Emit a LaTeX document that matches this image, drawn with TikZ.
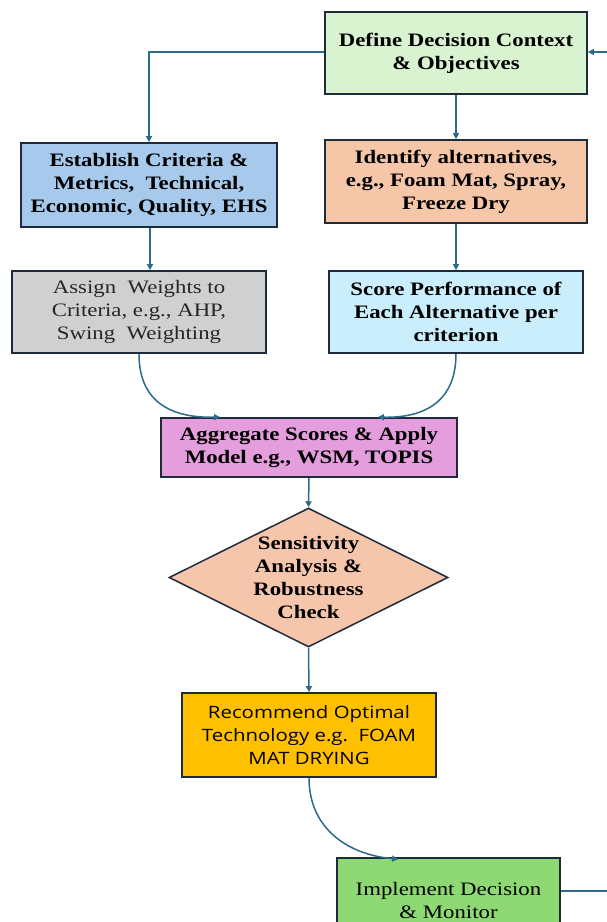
\documentclass[tikz,border=0pt]{standalone}
\usepackage{fontspec}
\setmainfont{Liberation Serif}[FakeStretch=1.2]
\newfontfamily\recfont{Open Sans}[FakeStretch=1.2]
\usetikzlibrary{shapes.geometric,arrows.meta}
\definecolor{cdefine}{HTML}{D9F2D0}
\definecolor{cestab}{HTML}{A6C9EC}
\definecolor{cident}{HTML}{F6C6A8}
\definecolor{cassign}{HTML}{D0D0D0}
\definecolor{cscore}{HTML}{CAEEFB}
\definecolor{caggr}{HTML}{E59EDD}
\definecolor{cdiam}{HTML}{F6C6AC}
\definecolor{crec}{HTML}{FFC000}
\definecolor{cimpl}{HTML}{8ED973}
\definecolor{cborder}{HTML}{1E2B3A}
\definecolor{carrow}{HTML}{2D6A8A}
\tikzset{
  box/.style={rectangle, draw=cborder, line width=1.8pt, align=center, inner sep=0pt},
  boldtext/.style={font=\fontsize{19}{23}\selectfont\bfseries},
  plaintext/.style={font=\fontsize{19}{23}\selectfont},
  conn/.style={draw=carrow, line width=1.5pt, -{Triangle[length=6pt,width=6pt]}},
  plainconn/.style={draw=carrow, line width=1.5pt}
}
\begin{document}
\begin{tikzpicture}[x=1pt,y=-1pt]
\useasboundingbox[fill=white] (0,0) rectangle (607,922);
\node[box, boldtext, fill=cdefine, minimum width=262pt, minimum height=82pt] (define) at (456,53) {Define Decision Context\\\& Objectives};
\node[box, boldtext, fill=cestab, minimum width=256pt, minimum height=84pt] (establish) at (149,185) {Establish Criteria \&\\Metrics,\ \ Technical,\\Economic, Quality, EHS};
\node[box, boldtext, fill=cident, minimum width=262pt, minimum height=83pt] (identify) at (456,181.5) {Identify alternatives,\\e.g., Foam Mat, Spray,\\Freeze Dry};
\node[box, plaintext, text=black!85, fill=cassign, minimum width=254pt, minimum height=82pt] (assign) at (139,312) {Assign\ \ Weights to\\Criteria, e.g., AHP,\\Swing\ \ Weighting};
\node[box, boldtext, fill=cscore, minimum width=254pt, minimum height=82pt] (score) at (456,312) {Score Performance of\\Each Alternative per\\criterion};
\node[box, boldtext, fill=caggr, minimum width=296pt, minimum height=59pt] (aggregate) at (309,447.5) {Aggregate Scores \& Apply\\Model e.g., WSM, TOPIS};
\node[diamond, draw=cborder, line width=1.5pt, fill=cdiam, aspect=2, inner sep=0pt, minimum width=279pt, minimum height=139pt, align=center, boldtext] (check) at (308.5,577.5) {Sensitivity\\Analysis \&\\Robustness\\Check};
\node[box, fill=crec, minimum width=254pt, minimum height=84pt, font=\recfont\fontsize{17}{23}\selectfont] (recommend) at (309,735) {Recommend Optimal\\Technology e.g.\ \ FOAM\\MAT DRYING};
\node[box, plaintext, fill=cimpl, minimum width=223pt, minimum height=84pt] (implement) at (448.5,900) {Implement Decision\\\& Monitor};
\coordinate (rtop) at (607.5,52);
\coordinate (rbot) at (607.5,891);
\draw[conn] (define.west |- 0,52) -| (establish.north);
\draw[conn] (define.south) -- (identify.north);
\draw[conn] (establish.south -| 150,0) -- (assign.north -| 150,0);
\draw[conn] (identify.south) -- (score.north);
\draw[conn] (assign.south) .. controls (139,405) and (175,418) .. ([xshift=60pt]aggregate.north west);
\draw[conn] (score.south) .. controls (456,405) and (420,418) .. ([xshift=-80pt]aggregate.north east);
\draw[conn] (aggregate.south) -- (check.north);
\draw[conn] (check.south) -- (recommend.north);
\draw[conn] (recommend.south) .. controls (309,830) and (350,855) .. ([xshift=62pt,yshift=-2pt]implement.north west);
\draw[plainconn] (implement.east |- rbot) -- (rbot) -- (rtop);
\draw[conn] (rtop) -- (define.east |- rtop);
\end{tikzpicture}
\end{document}
